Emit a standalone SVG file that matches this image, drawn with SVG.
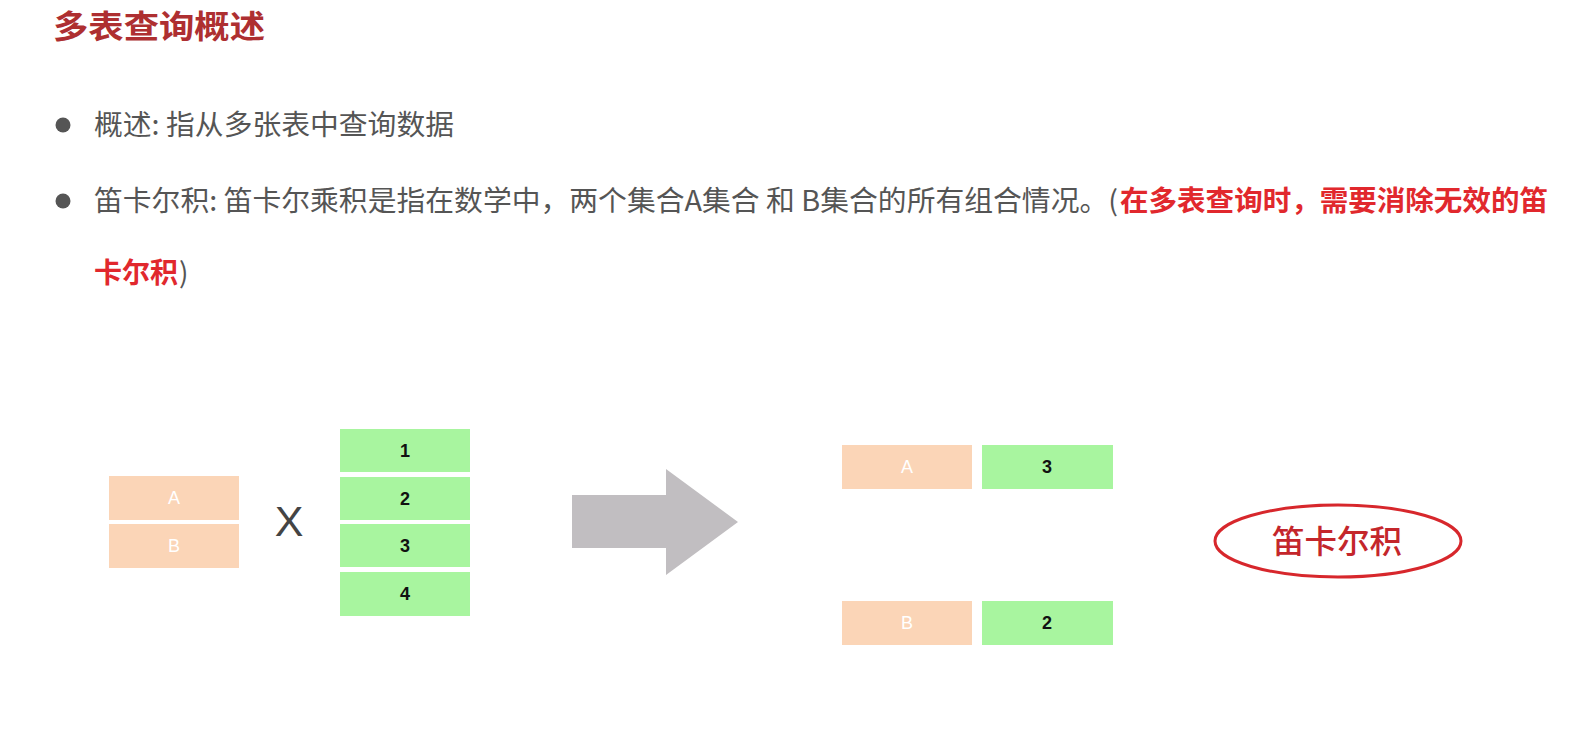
<svg xmlns="http://www.w3.org/2000/svg" width="1583" height="753" viewBox="0 0 1583 753">
<style>
.cn{font-family:"Noto Sans CJK SC","Noto Sans",sans-serif}
.gray{fill:#555555}
.red{fill:#e1282d}
.peach{fill:#fbd5b7}
.green{fill:#a8f59f}
.lbl{font-family:"Liberation Sans",Arial,sans-serif;font-size:18px;text-anchor:middle}
.wl{fill:#ffffff}
.bl{fill:#111111;font-weight:bold}
</style>
<rect width="1583" height="753" fill="#ffffff"/>
<g id="title">
<text x="53" y="38" class="cn" font-size="32" font-weight="bold" fill="#ae2f31" textLength="212" lengthAdjust="spacingAndGlyphs">多表查询概述</text>
</g>
<g id="bullet1">
<circle cx="63" cy="125" r="7.5" fill="#555555"/>
<text x="94" y="135" class="cn gray" font-size="28" textLength="360" lengthAdjust="spacingAndGlyphs">概述: 指从多张表中查询数据</text>
</g>
<g id="bullet2">
<circle cx="63" cy="201" r="7.5" fill="#555555"/>
<text x="94" y="211" class="cn gray" font-size="28" textLength="1024" lengthAdjust="spacingAndGlyphs">笛卡尔积: 笛卡尔乘积是指在数学中，两个集合A集合 和 B集合的所有组合情况。(</text>
<text x="1120" y="211" class="cn red" font-size="28" font-weight="bold" textLength="428" lengthAdjust="spacingAndGlyphs">在多表查询时，需要消除无效的笛</text>
<text x="94" y="283" class="cn red" font-size="28" font-weight="bold" textLength="84" lengthAdjust="spacingAndGlyphs">卡尔积</text>
<text x="179" y="283" class="cn gray" font-size="28">)</text>
</g>
<g id="setA">
<rect x="109" y="476" width="130" height="44" class="peach"/>
<text x="174" y="504" class="lbl wl">A</text>
<rect x="109" y="524" width="130" height="44" class="peach"/>
<text x="174" y="552" class="lbl wl">B</text>
</g>
<g id="times">
<text x="289" y="536" font-family="Liberation Sans,Arial,sans-serif" font-size="43" fill="#444444" text-anchor="middle">X</text>
</g>
<g id="setB">
<rect x="340" y="429" width="130" height="43" class="green"/>
<text x="405" y="457" class="lbl bl">1</text>
<rect x="340" y="477" width="130" height="43" class="green"/>
<text x="405" y="505" class="lbl bl">2</text>
<rect x="340" y="524" width="130" height="43" class="green"/>
<text x="405" y="552" class="lbl bl">3</text>
<rect x="340" y="572" width="130" height="44" class="green"/>
<text x="405" y="600" class="lbl bl">4</text>
</g>
<g id="connectors">
<polygon points="572,495 666,495 666,469 738,522 666,575 666,548 572,548" fill="#c1bec1"/>
</g>
<g id="result1">
<rect x="842" y="445" width="130" height="44" class="peach"/>
<text x="907" y="473" class="lbl wl">A</text>
<rect x="982" y="445" width="131" height="44" class="green"/>
<text x="1047" y="473" class="lbl bl">3</text>
</g>
<g id="result2">
<rect x="842" y="601" width="130" height="44" class="peach"/>
<text x="907" y="629" class="lbl wl">B</text>
<rect x="982" y="601" width="131" height="44" class="green"/>
<text x="1047" y="629" class="lbl bl">2</text>
</g>
<g id="cartesian">
<ellipse cx="1338" cy="541" rx="123" ry="36" fill="none" stroke="#d7272c" stroke-width="3"/>
<text x="1337" y="553" class="cn" font-size="32" font-weight="500" fill="#c4262b" text-anchor="middle" textLength="130" lengthAdjust="spacingAndGlyphs">笛卡尔积</text>
</g>
</svg>
